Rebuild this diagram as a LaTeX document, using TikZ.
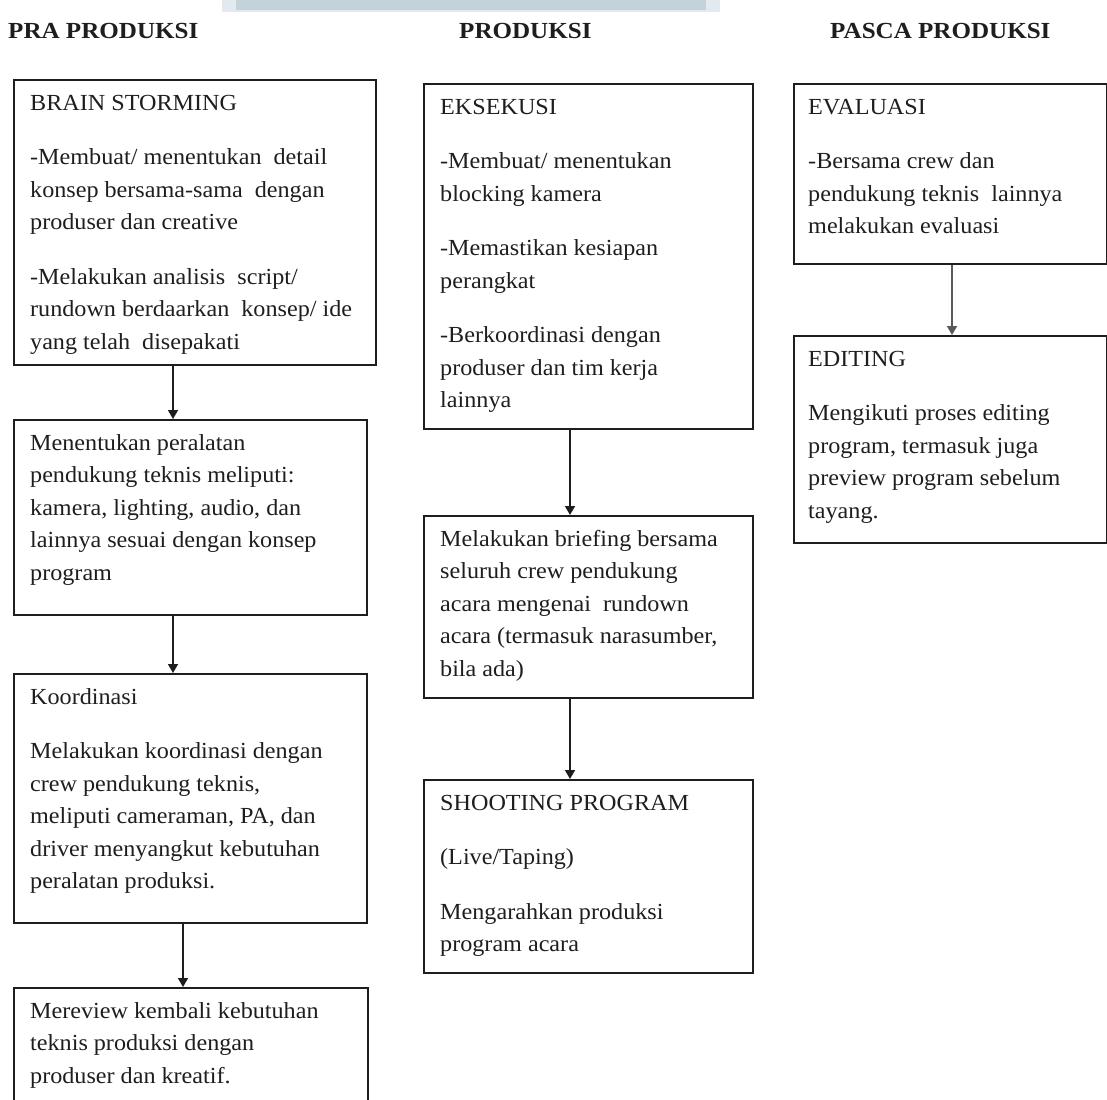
\documentclass[tikz,border=0pt]{standalone}
\usepackage{fontspec}
\setmainfont{Liberation Serif}[FakeStretch=1.05]
\usetikzlibrary{arrows.meta,calc}
\definecolor{inkc}{RGB}{30,30,30}
\definecolor{barouter}{RGB}{226,234,239}
\definecolor{barinner}{RGB}{196,210,218}
\begin{document}
\begin{tikzpicture}[x=1pt,y=-1pt,
  box/.style={draw=inkc, line width=1.7pt, inner sep=0pt, anchor=north west},
  txt/.style={anchor=north west, inner sep=0pt, align=left, text=inkc,
              font=\fontsize{23}{32.5}\selectfont},
  head/.style={anchor=base west, inner sep=0pt, text=inkc,
               font=\fontsize{23}{28}\selectfont\bfseries\addfontfeature{FakeStretch=1.09}},
  arr/.style={draw=inkc, line width=1.6pt, -{Triangle[length=9pt,width=10pt]}}]
\useasboundingbox (0,0) rectangle (1107,1099);
\clip (0,0) rectangle (1107,1099);
\fill[white] (0,0) rectangle (1107,1099);
% light bar at the top edge
\fill[barouter] (222,0) rectangle (720,12);
\fill[barinner] (236,0) rectangle (706,10);

% headers
\node[head] (h1) at (8,39) {PRA PRODUKSI};
\node[head] (h2) at (459,39) {PRODUKSI};
\node[head] (h3) at (830,39) {PASCA PRODUKSI};

% column 1 boxes
\node[box, minimum width=362pt, minimum height=285pt] (b1) at (13,79) {};
\node[box, minimum width=353pt, minimum height=195pt] (b2) at (13,419) {};
\node[box, minimum width=353pt, minimum height=249pt] (b3) at (13,673) {};
\node[box, minimum width=354pt, minimum height=130pt] (b4) at (13,987) {};

% column 2 boxes
\node[box, minimum width=329pt, minimum height=345pt] (c1) at (423,83) {};
\node[box, minimum width=329pt, minimum height=182pt] (c2) at (423,515) {};
\node[box, minimum width=329pt, minimum height=193pt] (c3) at (423,779) {};

% column 3 boxes
\node[box, minimum width=313pt, minimum height=180pt] (d1) at (793,83) {};
\node[box, minimum width=313pt, minimum height=207pt] (d2) at (793,335) {};

% texts column 1
\node[txt] (tb1) at (30,87.25) {\strut BRAIN STORMING\\[22pt]
-Membuat/ menentukan\ \ detail\\
konsep bersama-sama\ \ dengan\\
produser dan creative\\[22pt]
-Melakukan analisis\ \ script/\\
rundown berdaarkan\ \ konsep/ ide\\
yang telah\ \ disepakati};
\node[txt] (tb2) at (30,427.25) {\strut Menentukan peralatan\\
pendukung teknis meliputi:\\
kamera, lighting, audio, dan\\
lainnya sesuai dengan konsep\\
program};
\node[txt] (tb3) at (30,681.25) {\strut Koordinasi\\[22pt]
Melakukan koordinasi dengan\\
crew pendukung teknis,\\
meliputi cameraman, PA, dan\\
driver menyangkut kebutuhan\\
peralatan produksi.};
\node[txt] (tb4) at (30,995.25) {\strut Mereview kembali kebutuhan\\
teknis produksi dengan\\
produser dan kreatif.};

% texts column 2
\node[txt] (tc1) at (440,91.25) {\strut EKSEKUSI\\[22pt]
-Membuat/ menentukan\\
blocking kamera\\[22pt]
-Memastikan kesiapan\\
perangkat\\[22pt]
-Berkoordinasi dengan\\
produser dan tim kerja\\
lainnya};
\node[txt] (tc2) at (440,523.25) {\strut Melakukan briefing bersama\\
seluruh crew pendukung\\
acara mengenai\ \ rundown\\
acara (termasuk narasumber,\\
bila ada)};
\node[txt] (tc3) at (440,787.25) {\strut SHOOTING PROGRAM\\[22pt]
(Live/Taping)\\[22pt]
Mengarahkan produksi\\
program acara};

% texts column 3
\node[txt] (td1) at (808,91.25) {\strut EVALUASI\\[22pt]
-Bersama crew dan\\
pendukung teknis\ \ lainnya\\
melakukan evaluasi};
\node[txt] (td2) at (808,343.25) {\strut EDITING\\[22pt]
Mengikuti proses editing\\
program, termasuk juga\\
preview program sebelum\\
tayang.};

% arrow guide coordinates
\coordinate (xa) at (173,0);
\coordinate (xb) at (183,0);
\coordinate (xc) at (570,0);
\coordinate (xd) at (952,0);

% connectors
\draw[arr] (b1.south -| xa) -- (b2.north -| xa);
\draw[arr] (b2.south -| xa) -- (b3.north -| xa);
\draw[arr] (b3.south -| xb) -- (b4.north -| xb);
\draw[arr] (c1.south -| xc) -- (c2.north -| xc);
\draw[arr] (c2.south -| xc) -- (c3.north -| xc);
\draw[arr, draw=black!65] (d1.south -| xd) -- (d2.north -| xd);
\end{tikzpicture}
\end{document}
